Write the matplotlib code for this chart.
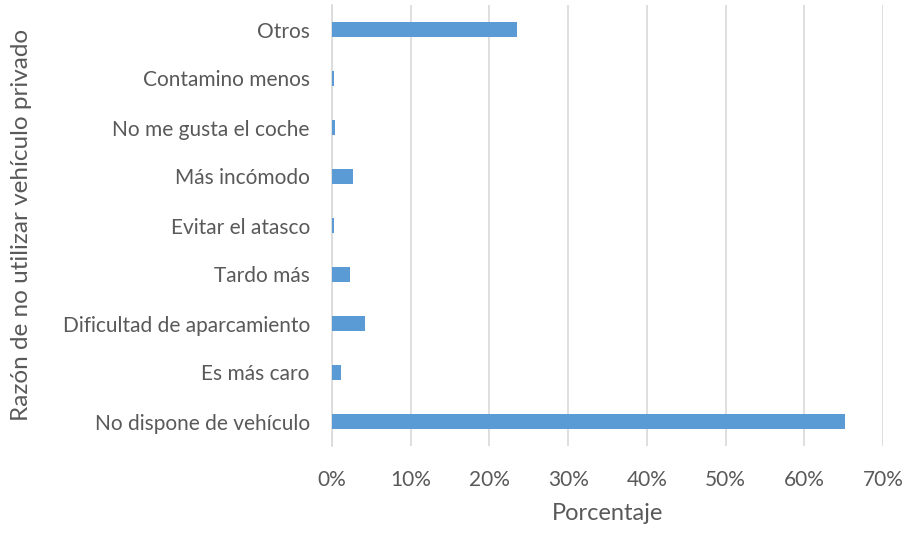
import matplotlib.pyplot as plt
from matplotlib.ticker import PercentFormatter

plt.rcParams["font.family"] = ["Lato", "DejaVu Sans"]

# categories from bottom to top
razones = [
    "No dispone de vehículo",
    "Es más caro",
    "Dificultad de aparcamiento",
    "Tardo más",
    "Evitar el atasco",
    "Más incómodo",
    "No me gusta el coche",
    "Contamino menos",
    "Otros",
]
porcentajes = [65.2, 1.1, 4.2, 2.3, 0.2, 2.7, 0.4, 0.25, 23.5]
x_ticks = [0, 10, 20, 30, 40, 50, 60, 70]

BAR_COLOR = "#5B9BD5"
TEXT_COLOR = "#595959"
GRID_COLOR = "#D9D9D9"

fig = plt.figure(figsize=(9.07, 5.33), dpi=100)
ax = fig.add_axes([332 / 907, 1 - 446 / 533, (883 - 332) / 907, 441 / 533])

ax.barh(range(len(razones)), porcentajes, height=0.31, color=BAR_COLOR, zorder=3)

ax.set_xlim(0, 70)
ax.set_ylim(-0.5, len(razones) - 0.5)
ax.set_xticks(x_ticks)
ax.xaxis.set_major_formatter(PercentFormatter(decimals=0))
ax.set_yticks(range(len(razones)))
ax.set_yticklabels(razones)

ax.grid(axis="x", color=GRID_COLOR, linewidth=1.2, zorder=0)
for side in ["top", "right", "bottom"]:
    ax.spines[side].set_visible(False)
ax.spines["left"].set_color(GRID_COLOR)
ax.spines["left"].set_linewidth(1.2)

ax.tick_params(axis="y", length=0, pad=16, labelsize=15, labelcolor=TEXT_COLOR)
ax.tick_params(axis="x", length=0, pad=17, labelsize=15, labelcolor=TEXT_COLOR)

ax.set_xlabel("Porcentaje", fontsize=17, color=TEXT_COLOR, labelpad=10)
fig.text(22 / 907, 1 - 225 / 533, "Razón de no utilizar vehículo privado",
         rotation=90, fontsize=17.5, color=TEXT_COLOR, ha="center", va="center")

fig.savefig("out.png", dpi=100)
